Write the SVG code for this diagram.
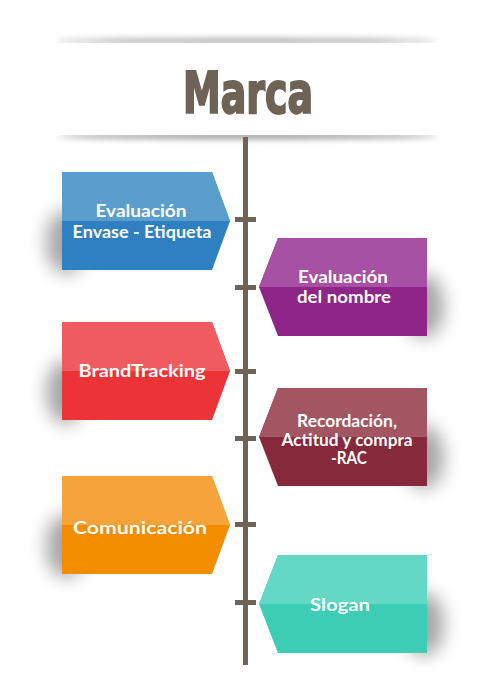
<svg xmlns="http://www.w3.org/2000/svg" width="486" height="700" viewBox="0 0 486 700">
<defs>
<filter id="blur" x="-50%" y="-50%" width="200%" height="200%"><feGaussianBlur stdDeviation="9"/></filter>
<filter id="blurS" x="-50%" y="-300%" width="200%" height="700%"><feGaussianBlur stdDeviation="3"/></filter>
<radialGradient id="bshadow" cx="0.5" cy="1" r="0.5">
<stop offset="0" stop-color="#000" stop-opacity="0.4"/>
<stop offset="1" stop-color="#000" stop-opacity="0"/>
</radialGradient>
<clipPath id="cL1"><polygon points="62,172 212,172 230,221 212,270 62,270"/></clipPath>
<clipPath id="cR1"><polygon points="278,238 427,238 427,336 278,336 259,287"/></clipPath>
<clipPath id="cL2"><polygon points="62,322 212,322 230,371 212,420 62,420"/></clipPath>
<clipPath id="cR2"><polygon points="278,388 427,388 427,486 278,486 259,437"/></clipPath>
<clipPath id="cL3"><polygon points="62,476 212,476 230,525 212,574 62,574"/></clipPath>
<style>
.t{font-family:Lato,"Open Sans",sans-serif;font-weight:700;fill:#fff;text-anchor:middle;font-size:16.5px}
.sh{fill:#000;opacity:0.35;filter:url(#blur)}
.tk{fill:#6e6356}
</style>
</defs>
<rect width="486" height="700" fill="#fff"/>
<g id="title">
<ellipse cx="247" cy="41" rx="190" ry="2" fill="#000" opacity="0.45" filter="url(#blurS)"/>
<ellipse cx="247" cy="136" rx="190" ry="2.5" fill="#000" opacity="0.5" filter="url(#blurS)"/>
<rect x="40" y="43" width="420" height="92" fill="#fff"/>
<text x="248" y="113" font-family="'DejaVu Sans Condensed','DejaVu Sans',sans-serif" font-weight="700" font-size="57" fill="#6e6356" stroke="#6e6356" stroke-width="2" text-anchor="middle" textLength="130" lengthAdjust="spacingAndGlyphs">Marca</text>
</g>
<g id="connectors">
<rect x="243" y="137" width="5" height="528" class="tk"/>
<rect x="235" y="217" width="21" height="5" class="tk"/>
<rect x="235" y="285" width="21" height="5" class="tk"/>
<rect x="235" y="369" width="21" height="5" class="tk"/>
<rect x="235" y="436" width="21" height="5" class="tk"/>
<rect x="235" y="522" width="21" height="5" class="tk"/>
<rect x="235" y="600" width="21" height="5" class="tk"/>
</g>
<g id="n1">
<ellipse cx="66" cy="242" rx="20" ry="32" class="sh"/>
<polygon points="62,172 212,172 230,221 212,270 62,270" fill="#2f80c0"/>
<polygon points="62,172 212,172 230,221 62,221" fill="#5b9ecd"/>
<ellipse cx="150" cy="274" rx="75" ry="14" fill="url(#bshadow)" clip-path="url(#cL1)"/>
<text class="t" x="141" y="217" textLength="91" lengthAdjust="spacingAndGlyphs">Evaluación</text>
<text class="t" x="142" y="238" textLength="139" lengthAdjust="spacingAndGlyphs">Envase - Etiqueta</text>
</g>
<g id="n2">
<ellipse cx="424" cy="306" rx="20" ry="32" class="sh"/>
<polygon points="278,238 427,238 427,336 278,336 259,287" fill="#8f2489"/>
<polygon points="278,238 427,238 427,287 259,287" fill="#a651a3"/>
<ellipse cx="335" cy="340" rx="75" ry="14" fill="url(#bshadow)" clip-path="url(#cR1)"/>
<text class="t" x="343" y="283" textLength="90" lengthAdjust="spacingAndGlyphs">Evaluación</text>
<text class="t" x="344" y="303" textLength="94" lengthAdjust="spacingAndGlyphs">del nombre</text>
</g>
<g id="n3">
<ellipse cx="66" cy="392" rx="20" ry="32" class="sh"/>
<polygon points="62,322 212,322 230,371 212,420 62,420" fill="#ec3337"/>
<polygon points="62,322 212,322 230,371 62,371" fill="#f05b5f"/>
<ellipse cx="150" cy="424" rx="75" ry="14" fill="url(#bshadow)" clip-path="url(#cL2)"/>
<text class="t" x="142" y="377" font-size="17.5" textLength="127" lengthAdjust="spacingAndGlyphs">BrandTracking</text>
</g>
<g id="n4">
<ellipse cx="424" cy="457" rx="20" ry="32" class="sh"/>
<polygon points="278,388 427,388 427,486 278,486 259,437" fill="#86293b"/>
<polygon points="278,388 427,388 427,437 259,437" fill="#a15662"/>
<ellipse cx="335" cy="490" rx="75" ry="14" fill="url(#bshadow)" clip-path="url(#cR2)"/>
<text class="t" x="347" y="427" font-size="14.5" textLength="100" lengthAdjust="spacingAndGlyphs">Recordación,</text>
<text class="t" x="347" y="445.5" font-size="14.5" textLength="131" lengthAdjust="spacingAndGlyphs">Actitud y compra</text>
<text class="t" x="349" y="464" font-size="14.5" textLength="36" lengthAdjust="spacingAndGlyphs">-RAC</text>
</g>
<g id="n5">
<ellipse cx="66" cy="546" rx="20" ry="32" class="sh"/>
<polygon points="62,476 212,476 230,525 212,574 62,574" fill="#f28d00"/>
<polygon points="62,476 212,476 230,525 62,525" fill="#f5a43b"/>
<ellipse cx="150" cy="578" rx="75" ry="14" fill="url(#bshadow)" clip-path="url(#cL3)"/>
<text class="t" x="140" y="534" font-size="17.5" textLength="134" lengthAdjust="spacingAndGlyphs">Comunicación</text>
</g>
<g id="n6">
<ellipse cx="424" cy="624" rx="20" ry="32" class="sh"/>
<polygon points="278,555 427,555 427,653 278,653 259,604" fill="#3dcdb4"/>
<polygon points="278,555 427,555 427,604 259,604" fill="#63d8c4"/>
<text class="t" x="340" y="611" font-size="17.5" textLength="60" lengthAdjust="spacingAndGlyphs">Slogan</text>
</g>
</svg>
